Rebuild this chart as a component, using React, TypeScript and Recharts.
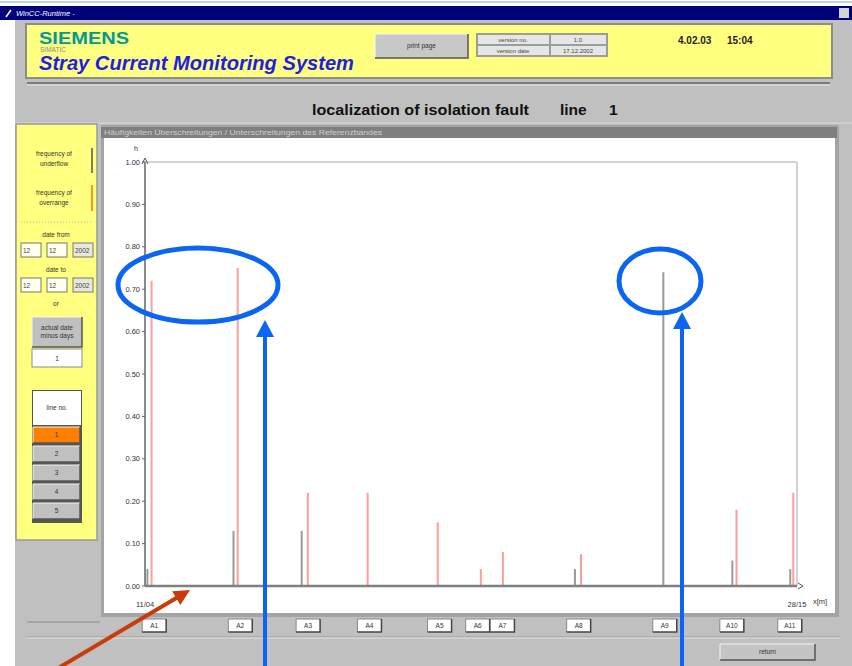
import React from "react";
import { ComposedChart, Bar, XAxis, YAxis, ReferenceLine } from "recharts";

// distance along the line (km) where the band was left
const underflowKm = [11.09, 13.35, 15.14, 22.31, 24.63, 26.44, 27.96];
const underflowFreq = [0.04, 0.13, 0.13, 0.04, 0.74, 0.06, 0.04];
const overrangeKm = [11.2, 13.46, 15.3, 16.87, 18.71, 19.84, 20.42, 22.47, 26.55, 28.04];
const overrangeFreq = [0.72, 0.75, 0.22, 0.22, 0.15, 0.04, 0.08, 0.075, 0.18, 0.22];

const stations = ["A1", "A2", "A3", "A4", "A5", "A6", "A7", "A8", "A9", "A10", "A11"];
const stationKm = [11.28, 13.54, 15.32, 16.93, 18.77, 19.77, 20.42, 22.42, 24.68, 26.44, 27.96];

const xDomain = [11.04, 28.15];
const xTicks = [11.04, 28.15];
const xTickLabels = ["11/04", "28/15"];
const yTicks = [0, 0.1, 0.2, 0.3, 0.4, 0.5, 0.6, 0.7, 0.8, 0.9, 1.0];

const font = "'Liberation Sans', Arial, sans-serif";
const yellow = "#ffff80";

const data = [
  ...underflowKm.map((km, i) => ({ km, under: underflowFreq[i], over: null })),
  ...overrangeKm.map((km, i) => ({ km, under: null, over: overrangeFreq[i] })),
].sort((a, b) => a.km - b.km);

function Bevel({ x, y, w, h, fill = "#c4c4c4", lines = [] as string[], fontSize = 7 }) {
  const cy = y + h / 2 - ((lines.length - 1) * (fontSize + 2)) / 2;
  return (
    <g>
      <rect x={x} y={y} width={w} height={h} fill={fill} />
      <path d={`M${x},${y + h} L${x},${y} L${x + w},${y}`} stroke="#f4f4f4" fill="none" />
      <path d={`M${x},${y + h} L${x + w},${y + h} L${x + w},${y}`} stroke="#555" strokeWidth={1.5} fill="none" />
      {lines.map((t, i) => (
        <text key={i} x={x + w / 2} y={cy + i * (fontSize + 2) + fontSize / 3} fontSize={fontSize} textAnchor="middle" fill="#333">
          {t}
        </text>
      ))}
    </g>
  );
}

function Field({ x, y, w, h, label, fill = "#fffff0" }) {
  return (
    <g>
      <rect x={x} y={y} width={w} height={h} fill={fill} stroke="#777" />
      <text x={x + 2} y={y + h / 2 + 2.5} fontSize={6.5} fill="#444">{label}</text>
    </g>
  );
}

function StationTick(props: any) {
  const { x, y, payload } = props;
  const i = stationKm.indexOf(payload.value);
  return (
    <g>
      <rect x={x - 12} y={y + 8} width={24} height={13} fill="#fff" />
      <path d={`M${x - 12},${y + 21} L${x - 12},${y + 8} L${x + 12},${y + 8}`} stroke="#888" fill="none" />
      <path d={`M${x - 12},${y + 21} L${x + 12},${y + 21} L${x + 12},${y + 8}`} stroke="#444" strokeWidth={1.5} fill="none" />
      <text x={x} y={y + 17} fontSize={6.5} textAnchor="middle" fill="#333">{stations[i]}</text>
    </g>
  );
}

function Background() {
  const lineBtns = ["1", "2", "3", "4", "5"];
  return (
    <svg width={852} height={666} style={{ position: "absolute", left: 0, top: 0, fontFamily: font }}>
      <rect width={852} height={666} fill="#c0c0c0" />
      <rect x={0} y={20} width={15} height={646} fill="#fff" />
      <rect x={0} y={0} width={852} height={6} fill="#fff" />
      <line x1={0} x2={852} y1={2} y2={2} stroke="#7da3d8" />
      <rect x={0} y={6} width={852} height={14} fill="#00007b" />
      <path d="M6,17 L11,10" stroke="#fff" strokeWidth={1.5} />
      <text x={16} y={16} fontSize={7.5} fontStyle="italic" fill="#fff">WinCC-Runtime -</text>
      <rect x={839} y={8} width={10} height={10} fill="#d4d4d4" />

      {/* header */}
      <rect x={26} y={24} width={806} height={54} fill={yellow} stroke="#8c8c8c" strokeWidth={2} />
      <text x={39} y={44} fontSize={16} fontWeight="bold" fill="#009999" textLength={90} lengthAdjust="spacingAndGlyphs">SIEMENS</text>
      <text x={40} y={52} fontSize={6.5} fill="#8a8a8a">SIMATIC</text>
      <text x={39} y={70} fontSize={20} fontWeight="bold" fontStyle="italic" fill="#1e1ee6" textLength={315} lengthAdjust="spacingAndGlyphs">
        Stray Current Monitoring System
      </text>
      <Bevel x={375} y={34} w={93} h={24} fill="#c8c8c8" lines={["print page"]} fontSize={6.5} />
      <rect x={476} y={33} width={132} height={24} fill="#9c9c9c" />
      <rect x={478} y={35} width={71} height={9} fill="#e6e6e6" />
      <rect x={551} y={35} width={55} height={9} fill="#e6e6e6" />
      <rect x={478} y={46} width={71} height={9} fill="#e6e6e6" />
      <rect x={551} y={46} width={55} height={9} fill="#e6e6e6" />
      <text x={513} y={42} fontSize={6} textAnchor="middle" fill="#444">version no.</text>
      <text x={578} y={42} fontSize={6} textAnchor="middle" fill="#444">1.0</text>
      <text x={513} y={53} fontSize={6} textAnchor="middle" fill="#444">version date</text>
      <text x={578} y={53} fontSize={6} textAnchor="middle" fill="#444">17.12.2002</text>
      <text x={678} y={44} fontSize={10} fontWeight="bold" fill="#222">4.02.03</text>
      <text x={727} y={44} fontSize={10} fontWeight="bold" fill="#222">15:04</text>
      <line x1={27} x2={830} y1={83} y2={83} stroke="#7a7a7a" strokeWidth={2} />
      <line x1={27} x2={830} y1={85} y2={85} stroke="#e6e6e6" />

      {/* page title */}
      <text x={312} y={115} fontSize={15.5} fontWeight="bold" fill="#111" textLength={217} lengthAdjust="spacingAndGlyphs">
        localization of isolation fault
      </text>
      <text x={560} y={115} fontSize={15.5} fontWeight="bold" fill="#111">line</text>
      <text x={609} y={115} fontSize={15.5} fontWeight="bold" fill="#111">1</text>
      <line x1={15} x2={852} y1={123} y2={123} stroke="#dcdcdc" />

      {/* left control panel */}
      <rect x={16} y={124} width={81} height={416} fill={yellow} stroke="#9a9a9a" strokeWidth={1.5} />
      <text x={54} y={156} fontSize={6.5} textAnchor="middle" fill="#333">frequency of</text>
      <text x={54} y={166} fontSize={6.5} textAnchor="middle" fill="#333">underflow</text>
      <line x1={92} x2={92} y1={148} y2={173} stroke="#555" strokeWidth={1.5} />
      <text x={54} y={195} fontSize={6.5} textAnchor="middle" fill="#333">frequency of</text>
      <text x={54} y={205} fontSize={6.5} textAnchor="middle" fill="#333">overrange</text>
      <line x1={92} x2={92} y1={185} y2={211} stroke="#ff7000" strokeWidth={1.5} />
      <line x1={21} x2={92} y1={222} y2={222} stroke="#b8b8b8" strokeDasharray="1 2" />
      <text x={56} y={237} fontSize={6.5} textAnchor="middle" fill="#333">date from</text>
      <Field x={21} y={243} w={20} h={14} label="12" />
      <Field x={47} y={243} w={20} h={14} label="12" />
      <Field x={73} y={243} w={20} h={14} label="2002" fill="#e8e8d8" />
      <text x={56} y={272} fontSize={6.5} textAnchor="middle" fill="#333">date to</text>
      <Field x={21} y={278} w={20} h={14} label="12" />
      <Field x={47} y={278} w={20} h={14} label="12" />
      <Field x={73} y={278} w={20} h={14} label="2002" fill="#e8e8d8" />
      <text x={56} y={306} fontSize={6.5} textAnchor="middle" fill="#333">or</text>
      <Bevel x={32} y={317} w={50} h={30} fill="#c0c0c0" lines={["actual date", "minus days"]} fontSize={6.5} />
      <rect x={32} y={349} width={50} height={18} fill="#fff" stroke="#8a8a8a" />
      <text x={57} y={361} fontSize={6.5} textAnchor="middle" fill="#333">1</text>
      <rect x={32} y={390} width={50} height={133} fill="#555" />
      <rect x={33} y={391} width={48} height={34} fill="#fff" />
      <text x={57} y={410} fontSize={6.5} textAnchor="middle" fill="#333">line no.</text>
      {lineBtns.map((b, i) => (
        <Bevel key={b} x={33} y={427 + i * 19} w={47} h={16} fill={i === 0 ? "#ff8000" : "#c0c0c0"} lines={[b]} fontSize={6.5} />
      ))}

      {/* chart panel */}
      <rect x={101} y={125} width={738} height={492} fill="#a4a4a4" />
      <rect x={101} y={127} width={736} height={11} fill="#7f7f7f" />
      <text x={104} y={135} fontSize={7} fill="#cfcfcf" textLength={278} lengthAdjust="spacingAndGlyphs">
        Häufigkeiten Überschreitungen / Unterschreitungen des Referenzbandes
      </text>
      <rect x={104} y={138} width={731} height={475} fill="#fff" />

      {/* footer */}
      <line x1={27} x2={100} y1={622} y2={622} stroke="#8a8a8a" />
      <line x1={27} x2={840} y1={637} y2={637} stroke="#9a9a9a" />
      <line x1={27} x2={840} y1={638} y2={638} stroke="#e4e4e4" />
      <Bevel x={720} y={644} w={95} h={16} fill="#c4c4c4" lines={["return"]} fontSize={6.5} />
    </svg>
  );
}

function Annotations() {
  const blue = "#0a66f2";
  const red = "#c83c0c";
  return (
    <svg width={852} height={666} style={{ position: "absolute", left: 0, top: 0, pointerEvents: "none" }}>
      <ellipse cx={198} cy={285} rx={80} ry={37} fill="none" stroke={blue} strokeWidth={5} />
      <ellipse cx={660} cy={281} rx={41} ry={32} fill="none" stroke={blue} strokeWidth={5} />
      <line x1={265} x2={265} y1={666} y2={334} stroke={blue} strokeWidth={4} />
      <polygon points="265,320 256,337 274,337" fill={blue} />
      <line x1={682} x2={682} y1={666} y2={326} stroke={blue} strokeWidth={4} />
      <polygon points="682,312 673,329 691,329" fill={blue} />
      <line x1={55} y1={670} x2={178} y2={597} stroke={red} strokeWidth={4} />
      <polygon points="190,590 180.3,605.1 172.1,591.3" fill={red} />
    </svg>
  );
}

export default function App() {
  return (
    <div style={{ position: "absolute", left: 0, top: 0, width: 852, height: 666, overflow: "hidden", fontFamily: font }}>
      <Background />
      <div style={{ position: "absolute", left: 104, top: 138 }}>
        <ComposedChart
          width={732}
          height={500}
          data={data}
          margin={{ top: 24, right: 39, bottom: 0, left: 0 }}
          style={{ fontFamily: font }}
        >
          <YAxis
            type="number"
            domain={[0, 1]}
            ticks={yTicks}
            width={41}
            tickSize={3}
            tickMargin={2}
            tick={{ fontSize: 7.5, fill: "#333" }}
            tickFormatter={(v) => Number(v).toFixed(2)}
            axisLine={{ stroke: "#8a8a8a", strokeWidth: 2 }}
            tickLine={{ stroke: "#666" }}
            label={{
              content: (p: any) => {
                const vb = p.viewBox;
                const ax = vb.x + vb.width;
                return (
                  <g>
                    <text x={ax - 11} y={vb.y - 11} fontSize={7} fill="#333">h</text>
                    <path d={`M${ax - 3},${vb.y + 2} L${ax},${vb.y - 4} L${ax + 3},${vb.y + 2}`} fill="none" stroke="#555" />
                  </g>
                );
              },
            }}
          />
          <XAxis
            xAxisId="km"
            dataKey="km"
            type="number"
            domain={xDomain}
            allowDataOverflow
            ticks={xTicks}
            interval={0}
            height={25}
            tickLine={false}
            tickMargin={10}
            tick={{ fontSize: 7.5, fill: "#333" }}
            tickFormatter={(v) => xTickLabels[xTicks.indexOf(v)] ?? ""}
            axisLine={{ stroke: "#808080", strokeWidth: 2.5 }}
            label={{
              content: (p: any) => {
                const vb = p.viewBox;
                const ex = vb.x + vb.width;
                return (
                  <g>
                    <path d={`M${ex + 1},${vb.y - 3} L${ex + 6},${vb.y} L${ex + 1},${vb.y + 3}`} fill="none" stroke="#555" />
                    <text x={ex + 16} y={vb.y + 18} fontSize={7.5} fill="#333">x[m]</text>
                  </g>
                );
              },
            }}
          />
          <XAxis
            xAxisId="stations"
            dataKey="km"
            type="number"
            domain={xDomain}
            allowDataOverflow
            ticks={stationKm}
            interval={0}
            height={27}
            tickSize={0}
            tickMargin={0}
            axisLine={false}
            tickLine={false}
            tick={<StationTick />}
          />
          <ReferenceLine xAxisId="km" y={1} stroke="#c4c4c4" strokeWidth={1.5} />
          <ReferenceLine xAxisId="km" x={xDomain[1]} stroke="#c4c4c4" strokeWidth={1.5} />
          <Bar xAxisId="km" dataKey="under" stackId="f" fill="#9a9a9a" barSize={2} isAnimationActive={false} />
          <Bar xAxisId="km" dataKey="over" stackId="f" fill="#ff9c9c" barSize={2} isAnimationActive={false} />
        </ComposedChart>
      </div>
      <Annotations />
    </div>
  );
}
